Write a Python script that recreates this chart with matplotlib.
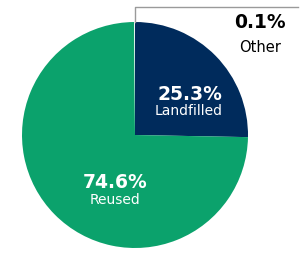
import matplotlib.pyplot as plt

labels = ["Landfilled", "Reused", "Other"]
shares = [25.3, 74.6, 0.1]
colors = ["#002B5C", "#0BA26C", "#FFFFFF"]

fig = plt.figure(figsize=(3.03, 2.61), dpi=100)
ax = fig.add_axes([0, 0, 1, 1])

ax.pie(shares, colors=colors, startangle=90, counterclock=False,
       center=(135, 126), radius=113, frame=True,
       wedgeprops=dict(linewidth=0))
ax.set_xlim(0, 303)
ax.set_ylim(0, 261)
ax.set_aspect("equal")
ax.axis("off")

# in-slice labels
ax.text(190, 166, f"{shares[0]}%", color="white", fontsize=13.5,
        fontweight="bold", ha="center", va="center")
ax.text(189, 150, labels[0], color="white", fontsize=10,
        ha="center", va="center")
ax.text(115, 79, f"{shares[1]}%", color="white", fontsize=13.5,
        fontweight="bold", ha="center", va="center")
ax.text(115, 61, labels[1], color="white", fontsize=10,
        ha="center", va="center")

# leader for the tiny slice
ax.plot([135, 135, 298], [239, 254, 254], color="#9a9a9a", lw=1)
ax.text(260, 238, f"{shares[2]}%", color="black", fontsize=13.5,
        fontweight="bold", ha="center", va="center")
ax.text(260, 214, labels[2], color="black", fontsize=10.5,
        ha="center", va="center")

fig.savefig("out.png", dpi=100)
